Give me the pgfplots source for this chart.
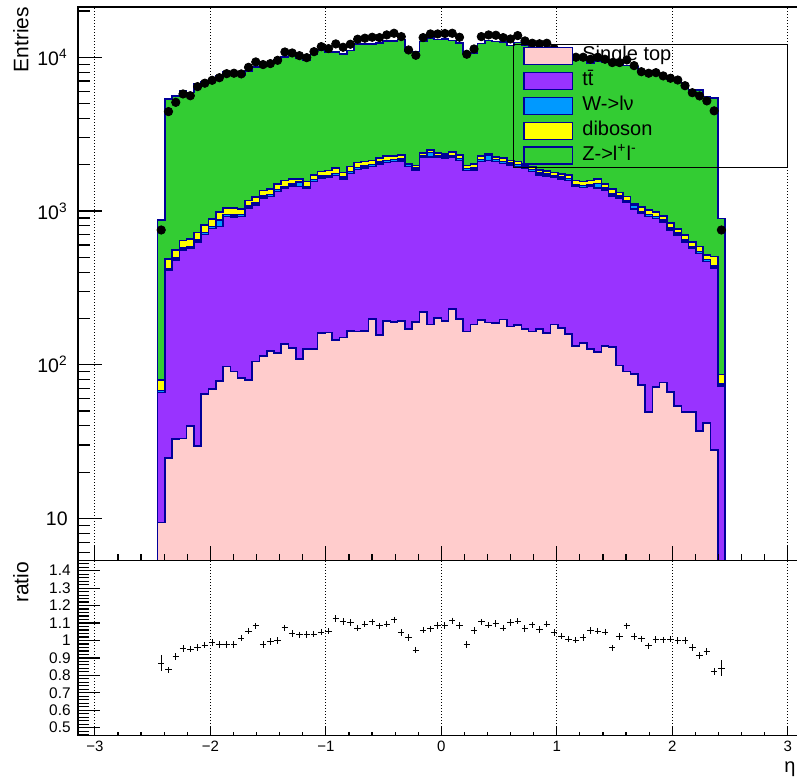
\documentclass[border=0pt]{standalone}
\usepackage{fontspec}
\setmainfont{Liberation Sans}
\usepackage{pgfplots}
\usepackage{pgfplotstable}
\pgfplotsset{compat=1.18}

\definecolor{stpink}{RGB}{255,204,204}
\definecolor{ttpurple}{RGB}{153,51,255}
\definecolor{wblue}{RGB}{0,153,255}
\definecolor{dibyellow}{RGB}{255,255,0}
\definecolor{zgreen}{RGB}{51,204,51}
\definecolor{histline}{RGB}{0,0,153}

% x = left bin edge; T = total stack (Z top), Y = diboson top, W = W top, P = ttbar top, S = single top
% D = data, R = data/MC ratio, E = ratio error
\pgfplotstableread{
x T Y W P S D R E
-2.457 873 79.5 68 66 9.4 752 0.869 0.045
-2.394 5350 486 421 409 24.8 4430 0.831 0.015
-2.331 5620 557 494 480 32.9 5090 0.907 0.01
-2.268 6050 641 574 557 33.2 5770 0.953 0.01
-2.205 5910 657 589 572 39.9 5620 0.951 0.01
-2.142 6710 723 648 629 29.7 6440 0.960 0.01
-2.079 6970 811 726 705 64.4 6780 0.973 0.01
-2.016 7160 883 794 771 69.4 7080 0.989 0.01
-1.953 7540 989 873 791 78.2 7360 0.976 0.01
-1.890 8010 1042 947 919 97.4 7820 0.976 0.01
-1.827 8050 1042 944 916 90.2 7870 0.978 0.01
-1.764 7680 1030 947 919 82.3 7790 1.014 0.01
-1.701 8160 1167 1073 1042 79.4 8600 1.054 0.01
-1.638 8610 1228 1127 1094 105 9320 1.083 0.01
-1.575 9180 1356 1246 1210 114 8960 0.976 0.01
-1.512 9150 1385 1277 1240 123 9090 0.993 0.01
-1.449 9560 1492 1376 1336 119 9550 0.999 0.01
-1.386 10080 1575 1447 1405 136 10820 1.073 0.01
-1.323 10240 1608 1500 1456 128 10660 1.041 0.01
-1.260 9910 1608 1540 1439 109 10240 1.033 0.01
-1.197 9600 1552 1447 1405 127 9940 1.035 0.01
-1.134 10480 1715 1599 1552 127 10870 1.037 0.01
-1.071 11180 1803 1681 1632 161 11720 1.048 0.01
-1.008 10800 1829 1706 1656 162 11380 1.054 0.01
-0.945 10830 1896 1751 1700 145 12210 1.127 0.01
-0.882 10480 1775 1656 1608 150 11610 1.108 0.01
-0.819 11030 1942 1811 1758 166 12150 1.102 0.01
-0.756 12230 2062 1922 1866 164 13100 1.071 0.01
-0.693 12160 2094 1953 1896 166 13300 1.094 0.01
-0.630 12200 2124 2000 1942 199 13490 1.106 0.01
-0.567 12390 2203 2073 2013 156 13420 1.083 0.01
-0.504 12770 2280 2124 2062 192 13970 1.094 0.01
-0.441 12800 2280 2157 2094 189 14320 1.119 0.01
-0.378 13020 2313 2173 2110 192 13620 1.046 0.01
-0.315 10950 2042 2000 1942 171 11150 1.018 0.01
-0.252 10900 1972 1904 1849 189 10300 0.945 0.01
-0.189 12660 2393 2302 2235 221 13420 1.060 0.01
-0.126 13290 2493 2400 2253 183 14180 1.067 0.01
-0.063 13070 2393 2302 2235 202 14180 1.085 0.01
0.000 13150 2339 2269 2203 193 14270 1.085 0.01
0.063 12870 2421 2302 2235 230 14320 1.113 0.01
0.126 12430 2313 2198 2134 198 13490 1.085 0.01
0.189 10700 1972 1884 1829 164 10460 0.978 0.01
0.252 10700 2024 1904 1849 183 11320 1.058 0.01
0.315 12310 2280 2157 2094 195 13620 1.106 0.01
0.378 12850 2344 2290 2134 188 13970 1.087 0.01
0.441 12660 2253 2157 2094 186 13900 1.098 0.01
0.504 12530 2203 2103 2042 197 13420 1.071 0.01
0.567 11930 2124 2050 1990 177 13150 1.102 0.01
0.630 12460 2094 2000 1942 181 13830 1.110 0.01
0.693 11950 2024 1953 1896 171 12770 1.069 0.01
0.756 11310 1942 1857 1803 164 12330 1.090 0.01
0.819 11500 1849 1766 1715 171 12240 1.064 0.01
0.882 11270 1820 1741 1690 161 12330 1.094 0.01
0.945 10900 1775 1706 1656 183 11390 1.045 0.01
1.008 10600 1742 1656 1608 173 10870 1.025 0.01
1.071 10300 1715 1622 1575 158 10380 1.008 0.01
1.134 9990 1575 1482 1439 132 10000 1.001 0.01
1.197 9840 1552 1467 1424 139 10000 1.016 0.01
1.260 9170 1575 1482 1439 127 9700 1.058 0.01
1.323 9490 1608 1510 1405 121 10000 1.054 0.01
1.386 9260 1496 1412 1371 132 9700 1.048 0.01
1.449 9640 1385 1291 1253 130 9230 0.957 0.01
1.512 9030 1316 1246 1210 98.6 9230 1.022 0.01
1.575 8860 1240 1166 1132 90.2 9600 1.083 0.01
1.638 8630 1112 1095 1026 86.8 8820 1.022 0.01
1.701 7970 1057 995 966 73.8 8050 1.010 0.01
1.764 8110 1014 947 919 49.4 7870 0.970 0.01
1.827 7890 989 923 896 71.9 7940 1.006 0.01
1.890 7540 927 877 851 76.8 7560 1.003 0.01
1.953 7240 832 775 752 66.7 7300 1.008 0.01
2.016 7120 760 719 698 54.1 7110 0.999 0.01
2.079 6540 698 650 631 49.4 6530 0.999 0.01
2.142 6130 631 589 572 49.4 5880 0.959 0.01
2.205 6130 586 546 530 37.2 5600 0.913 0.01
2.268 5550 517 482 468 41.9 5200 0.936 0.01
2.331 5440 505 437 424 27.9 4480 0.823 0.015
2.394 893 86.5 75 72.6 4 752 0.842 0.048
2.457 893 86.5 75 72.6 4 752 0.842 0.048
}\hist

\pgfplotsset{
  rootframe/.style={
    scale only axis,
    xmin=-3.146, xmax=3.146,
    axis on top,
    axis line style={line width=0.7pt},
    tick align=inside,
    tick pos=left,
    every tick/.append style={line width=0.6pt, black},
    xtick={-3,-2,-1,0,1,2,3},
    minor x tick num=4,
  },
  histstyle/.style={const plot, draw=histline, line width=0.8pt, fill=#1},
}

\begin{document}
\begin{tikzpicture}[x=1pt,y=1pt]
\useasboundingbox (0,0) rectangle (398.5,390.5);

% ---------------- main pad ----------------
\begin{axis}[
  rootframe,
  at={(39pt,110.15pt)}, anchor=south west,
  width=363.3pt, height=276.85pt,
  ymode=log, ymin=5.31, ymax=21230,
  xticklabels={},
  every x tick/.append style={/pgfplots/major tick length=7.5pt,/pgfplots/minor tick length=3.4pt},
  every y tick/.append style={/pgfplots/major tick length=12pt,/pgfplots/minor tick length=6pt},
  ytick={10,100,1000,10000},
  yticklabels={10,10\textsuperscript{2},10\textsuperscript{3},10\textsuperscript{4}},
  minor ytick={6,7,8,9,20,30,40,50,60,70,80,90,200,300,400,500,600,700,800,900,2000,3000,4000,5000,6000,7000,8000,9000,20000},
  yticklabel style={font=\fontsize{9.75}{11}\selectfont, anchor=east, inner sep=0pt, xshift=-5pt},
]
\pgfplotsinvokeforeach{-3,-2,-1,0,1,2,3}{
  \draw[line width=0.5pt, dash pattern=on 0.5pt off 1pt] (axis cs:#1,5.31) -- (axis cs:#1,21230);
}
\addplot[histstyle=zgreen] table[x=x, y=T] {\hist} \closedcycle;
\addplot[histstyle=dibyellow] table[x=x, y=Y] {\hist} \closedcycle;
\addplot[histstyle=wblue] table[x=x, y=W] {\hist} \closedcycle;
\addplot[histstyle=ttpurple] table[x=x, y=P] {\hist} \closedcycle;
\addplot[histstyle=stpink] table[x=x, y=S] {\hist} \closedcycle;
\addplot[only marks, mark=*, mark size=2.1pt, black]
  table[x expr=\thisrow{x}+0.0315, y=D, skip coords between index={78}{79}] {\hist};
\end{axis}

% ---------------- ratio pad ----------------
\begin{axis}[
  rootframe,
  at={(39pt,22.65pt)}, anchor=south west,
  width=363.3pt, height=87.5pt,
  ymin=0.4541, ymax=1.4573,
  xticklabels={−3,−2,−1,0,1,2,3},
  xticklabel style={font=\fontsize{7.5}{9}\selectfont, anchor=north, inner sep=0pt, yshift=-2.3pt},
  every x tick/.append style={/pgfplots/major tick length=4.5pt,/pgfplots/minor tick length=2pt},
  every y tick/.append style={/pgfplots/major tick length=11pt,/pgfplots/minor tick length=5.5pt},
  ytick={0.5,0.6,0.7,0.8,0.9,1,1.1,1.2,1.3,1.4},
  yticklabels={0.5,0.6,0.7,0.8,0.9,1,1.1,1.2,1.3,1.4},
  minor ytick={0.46,0.48,0.52,0.54,0.56,0.58,0.62,0.64,0.66,0.68,0.72,0.74,0.76,0.78,0.82,0.84,0.86,0.88,0.92,0.94,0.96,0.98,1.02,1.04,1.06,1.08,1.12,1.14,1.16,1.18,1.22,1.24,1.26,1.28,1.32,1.34,1.36,1.38,1.42,1.44},
  yticklabel style={font=\fontsize{7.7}{9}\selectfont, anchor=east, inner sep=0pt, xshift=-3.5pt},
]
\pgfplotsinvokeforeach{-3,-2,-1,0,1,2,3}{
  \draw[line width=0.5pt, dash pattern=on 0.5pt off 1pt] (axis cs:#1,0.4541) -- (axis cs:#1,1.4573);
}
\addplot[black, line width=0.5pt, only marks, mark=+, mark size=1.6pt,
  error bars/.cd, y dir=both, y explicit, error mark=none,
  error bar style={line width=0.5pt, black}]
  table[x expr=\thisrow{x}+0.0315, y=R, y error=E, skip coords between index={78}{79}] {\hist};
\end{axis}

% ---------------- axis titles ----------------
\node[rotate=90, anchor=base east, inner sep=0pt, font=\fontsize{10.5}{12}\selectfont] at (14.15,387.15) {Entries};
\node[rotate=90, anchor=base east, inner sep=0pt, font=\fontsize{10.5}{12}\selectfont] at (14.15,109.65) {ratio};
\node[anchor=base east, inner sep=0pt, font=\fontsize{10}{12}\selectfont] at (398.0,4.5) {η};

% ---------------- legend ----------------
\draw[line width=0.6pt, black] (256.65,306.65) rectangle (393.85,368.35);
\filldraw[fill=stpink,    draw=histline, line width=0.7pt] (262,358.1) rectangle (286.2,366.6);
\filldraw[fill=ttpurple,  draw=histline, line width=0.7pt] (262,345.6) rectangle (286.2,354.1);
\filldraw[fill=wblue,     draw=histline, line width=0.7pt] (262,333.15) rectangle (286.2,341.65);
\filldraw[fill=dibyellow, draw=histline, line width=0.7pt] (262,320.65) rectangle (286.2,329.15);
\filldraw[fill=zgreen,    draw=histline, line width=0.7pt] (262,308.5) rectangle (286.2,317.0);
\begin{scope}[every node/.style={anchor=base west, inner sep=0pt, font=\fontsize{10}{12}\selectfont}]
\node at (291,360.0) {Single top};
\node at (291,347.5) {t\=t};
\node at (291,335.05) {W->lν};
\node at (291,322.55) {diboson};
\node at (291,310.4) {Z->l\textsuperscript{+}l\textsuperscript{-}};
\end{scope}
\end{tikzpicture}
\end{document}
